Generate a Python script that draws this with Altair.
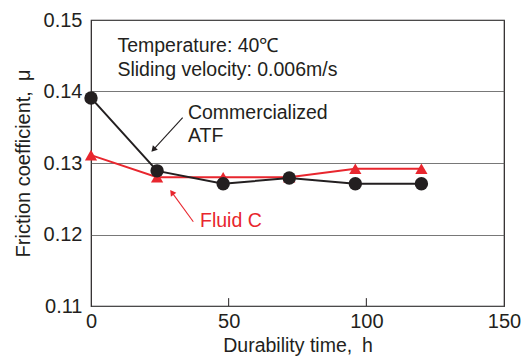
import altair as alt
import pandas as pd

hours = [0, 24, 48, 72, 96, 120]
atf = [0.1391, 0.1289, 0.1271, 0.1279, 0.1271, 0.1271]
fluid_c = [0.1311, 0.1280, 0.1280, 0.1280, 0.1292, 0.1292]

x_ticks = [0, 50, 100, 150]
y_ticks = [0.11, 0.12, 0.13, 0.14, 0.15]

BLACK = "#231f20"
RED = "#e8262e"
FONT = "Liberation Sans"

df_atf = pd.DataFrame({"t": hours, "mu": atf})
df_fc = pd.DataFrame({"t": hours, "mu": fluid_c})

xs = alt.Scale(domain=[0, 150], nice=False)
ys = alt.Scale(domain=[0.11, 0.15], nice=False, zero=False)

xax = alt.Axis(values=x_ticks, grid=False, ticks=False, domain=False, labelFontSize=20,
               labelFont=FONT, labelColor=BLACK, labelPadding=5,
               title="Durability time,\u2002h",
               titleFont=FONT, titleFontSize=19.5, titleFontWeight="normal", titleColor=BLACK,
               titlePadding=5, labelFlush=False)
yax = alt.Axis(values=y_ticks, grid=True, gridColor="#555555", gridWidth=0.8, ticks=False,
               domain=False, labelFontSize=20, labelFont=FONT, labelColor=BLACK, labelPadding=9,
               format=".2f", title="Friction coefficient,\u2002μ", titleFont=FONT,
               titleFontSize=20, titleFontWeight="normal", titleColor=BLACK, titlePadding=10)

base_x = alt.X("t:Q", scale=xs, axis=xax)
base_y = alt.Y("mu:Q", scale=ys, axis=yax)

red_line = alt.Chart(df_fc).mark_line(color=RED, strokeWidth=2).encode(x=base_x, y=base_y)
red_pts = alt.Chart(df_fc).mark_point(shape="triangle-up", filled=True, color=RED, size=150,
                                      opacity=1).encode(x="t:Q", y="mu:Q")
blk_line = alt.Chart(df_atf).mark_line(color=BLACK, strokeWidth=2).encode(x="t:Q", y="mu:Q")
blk_pts = alt.Chart(df_atf).mark_point(shape="circle", filled=True, color=BLACK, size=180,
                                       opacity=1).encode(x="t:Q", y="mu:Q")

# inner x ticks
tick_df = pd.DataFrame({"t": [50, 100], "y0": [0.11, 0.11], "y1": [0.1111, 0.1111]})
ticks = alt.Chart(tick_df).mark_rule(color=BLACK, strokeWidth=1).encode(
    x="t:Q", y="y0:Q", y2="y1:Q")

# annotations
cond_df = pd.DataFrame({"t": [9.6, 9.6], "mu": [0.14636, 0.14301],
                        "txt": ["Temperature: 40℃", "Sliding velocity: 0.006m/s"]})
cond = alt.Chart(cond_df).mark_text(align="left", baseline="middle", fontSize=19.5, font=FONT,
                                    color=BLACK).encode(x="t:Q", y="mu:Q", text="txt:N")

atf_lbl_df = pd.DataFrame({"t": [35.2, 35.2], "mu": [0.13699, 0.13378],
                           "txt": ["Commercialized", "ATF"]})
atf_lbl = alt.Chart(atf_lbl_df).mark_text(align="left", baseline="middle", fontSize=19.5,
                                          font=FONT, color=BLACK).encode(
    x="t:Q", y="mu:Q", text="txt:N")

fc_lbl_df = pd.DataFrame({"t": [39.6], "mu": [0.12189], "txt": ["Fluid C"]})
fc_lbl = alt.Chart(fc_lbl_df).mark_text(align="left", baseline="middle", fontSize=19.5, font=FONT,
                                        color=RED).encode(x="t:Q", y="mu:Q", text="txt:N")

# arrows
atf_arrow_df = pd.DataFrame({"t0": [33.3], "m0": [0.13634], "t1": [22.66], "m1": [0.13187]})
atf_arrow = alt.Chart(atf_arrow_df).mark_rule(color=BLACK, strokeWidth=1.1).encode(
    x="t0:Q", y="m0:Q", x2="t1:Q", y2="m1:Q")
atf_head = alt.Chart(atf_arrow_df).mark_point(shape="triangle-up", filled=True, color=BLACK,
                                              size=45, angle=222.6, opacity=1).encode(
    x="t1:Q", y="m1:Q")

fc_arrow_df = pd.DataFrame({"t0": [37.16], "m0": [0.12179], "t1": [29.38], "m1": [0.12590]})
fc_arrow = alt.Chart(fc_arrow_df).mark_rule(color=RED, strokeWidth=1.1).encode(
    x="t0:Q", y="m0:Q", x2="t1:Q", y2="m1:Q")
fc_head = alt.Chart(fc_arrow_df).mark_point(shape="triangle-up", filled=True, color=RED,
                                            size=45, angle=324, opacity=1).encode(
    x="t1:Q", y="m1:Q")

chart = alt.layer(
    red_line, ticks, cond, atf_lbl, fc_lbl, atf_arrow, atf_head, fc_arrow, fc_head,
    red_pts, blk_line, blk_pts
).properties(
    width=413, height=286,
    autosize=alt.AutoSizeParams(type="none"),
    padding={"left": 91, "top": 20, "right": 20, "bottom": 52},
    background="white",
).configure_view(stroke=BLACK, strokeWidth=1.2, clip=False)

chart.save("out.html", embed_options={"renderer": "svg", "actions": False})
